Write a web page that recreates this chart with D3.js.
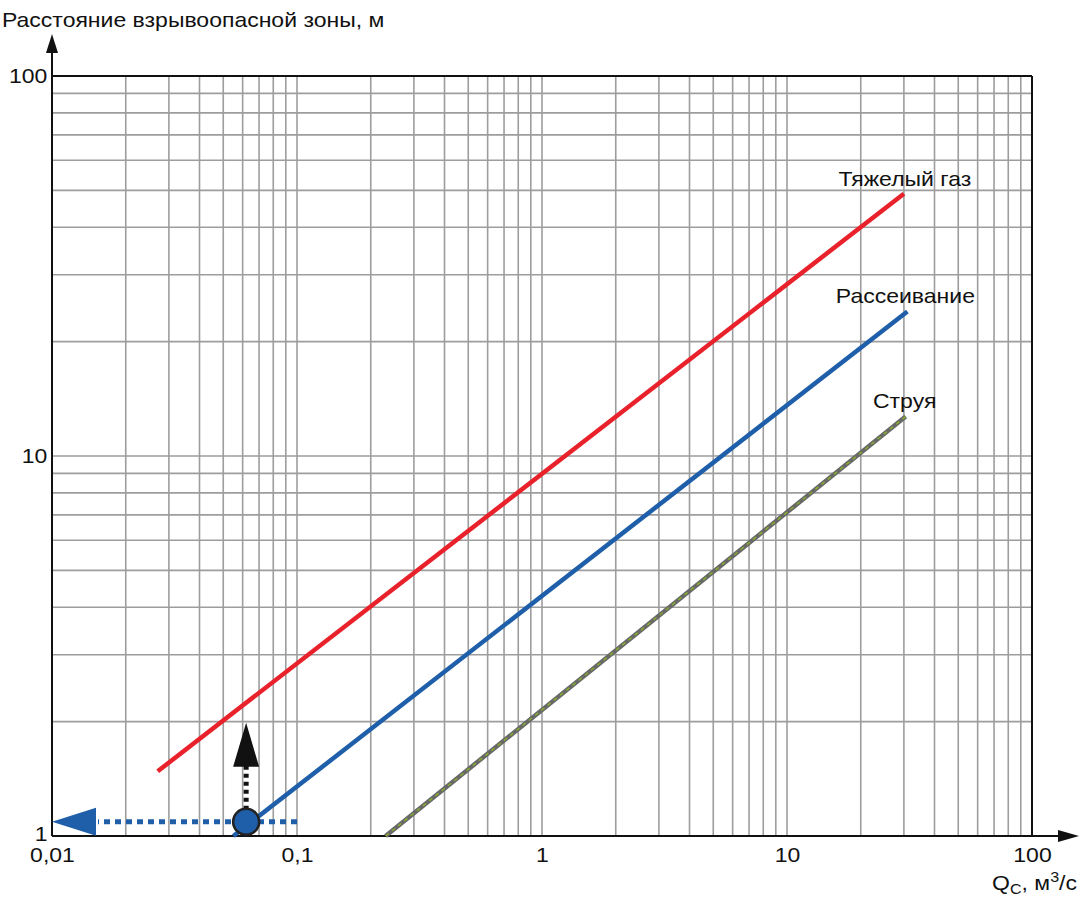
<!DOCTYPE html>
<html><head><meta charset="utf-8">
<script src="https://cdn.jsdelivr.net/npm/d3@7"></script>
<style>body{margin:0;background:#fff}svg{display:block}text{font-family:"Liberation Sans",Arial,sans-serif;fill:#111}</style>
</head><body>
<svg id="c" width="1083" height="897"></svg>
<script>
// Data
const xDomain = [0.01, 100];
const yDomain = [1, 100];
const xTickValues = [0.01, 0.1, 1, 10, 100];
const xTickLabels = ["0,01", "0,1", "1", "10", "100"];
const yTickValues = [1, 10, 100];
const yTickLabels = ["1", "10", "100"];
const seriesNames = ["Тяжелый газ", "Рассеивание", "Струя"];
const heavyGasQ = [0.027, 30];
const heavyGasR = [1.48, 49];
const dispersionQ = [0.055, 31];
const dispersionR = [1.0, 24];
const jetQ = [0.23, 30.5];
const jetR = [1.0, 12.7];
const exampleQ = 0.062;
const exampleR = 1.09;
const dashedStartQ = 0.1;

const FONT = '"Liberation Sans",Arial,sans-serif';
const SX = 1.15;
const svg = d3.select("#c");
const L = 52, R = 1032, T = 76, B = 836;
const x = d3.scaleLog().domain(xDomain).range([L, R]);
const y = d3.scaleLog().domain(yDomain).range([B, T]);

// grid
const grid = svg.append("g").attr("stroke", "#9d9d9d").attr("stroke-width", 1.6);
x.ticks().forEach(v => grid.append("line").attr("x1", x(v)).attr("x2", x(v)).attr("y1", T).attr("y2", B));
y.ticks().forEach(v => grid.append("line").attr("y1", y(v)).attr("y2", y(v)).attr("x1", L).attr("x2", R));

// frame
svg.append("line").attr("x1", L).attr("x2", R).attr("y1", T).attr("y2", T).attr("stroke", "#111").attr("stroke-width", 2);
svg.append("line").attr("x1", R).attr("x2", R).attr("y1", T).attr("y2", B).attr("stroke", "#111").attr("stroke-width", 2);
// axes lines with arrows
svg.append("line").attr("x1", L).attr("x2", L).attr("y1", B).attr("y2", 48).attr("stroke", "#111").attr("stroke-width", 2);
svg.append("path").attr("d", `M${L},34 L${L-6},53 L${L+6},53 Z`).attr("fill", "#111");
svg.append("line").attr("x1", L).attr("x2", 1064).attr("y1", B).attr("y2", B).attr("stroke", "#111").attr("stroke-width", 2);
svg.append("path").attr("d", `M1079,${B} L1058,${B-6} L1058,${B+6} Z`).attr("fill", "#111");

// tick labels
const xAxis = d3.axisBottom(x).tickValues(xTickValues).tickFormat((d, i) => xTickLabels[i]).tickSize(0).tickPadding(12);
const gx = svg.append("g").attr("transform", `translate(0,${B})`).call(xAxis);
gx.select(".domain").remove();
gx.selectAll("text").attr("font-size", 20).attr("fill", "#111").attr("font-family", FONT).attr("transform", `scale(${SX},1)`);
const yAxis = d3.axisLeft(y).tickValues(yTickValues).tickFormat((d, i) => yTickLabels[i]).tickSize(0).tickPadding(4);
const gy = svg.append("g").attr("transform", `translate(${L},0)`).call(yAxis);
gy.select(".domain").remove();
gy.selectAll("text").attr("font-size", 20).attr("fill", "#111").attr("font-family", FONT).attr("transform", `scale(${SX},1)`);
gy.selectAll("text").filter(d => d === 1).attr("dy", "0.2em");

// titles
svg.append("text").attr("transform", `translate(2,27) scale(${SX},1)`).attr("font-size", 20).text("Расстояние взрывоопасной зоны, м");
const qt = svg.append("text").attr("transform", `translate(1077,890) scale(${SX},1)`).attr("font-size", 20).attr("text-anchor", "end");
qt.append("tspan").text("Q");
qt.append("tspan").attr("font-size", 14).attr("dy", 4).text("C");
qt.append("tspan").attr("dy", -4).text(", м");
qt.append("tspan").attr("font-size", 14).attr("dy", -8).text("3");
qt.append("tspan").attr("dy", 8).text("/с");

const line = d3.line().x(d => x(d[0])).y(d => y(d[1]));
const heavy = heavyGasQ.map((q, i) => [q, heavyGasR[i]]);
const disp = dispersionQ.map((q, i) => [q, dispersionR[i]]);
const jet = jetQ.map((q, i) => [q, jetR[i]]);

svg.append("path").datum(heavy).attr("d", line).attr("stroke", "#e8212b").attr("stroke-width", 4.5).attr("fill", "none");
svg.append("path").datum(disp).attr("d", line).attr("stroke", "#1f5fa9").attr("stroke-width", 4.5).attr("fill", "none");
svg.append("path").datum(jet).attr("d", line).attr("stroke", "#686868").attr("stroke-width", 4.5).attr("fill", "none");
svg.append("path").datum(jet).attr("d", line).attr("stroke", "#86ad2e").attr("stroke-width", 1.5).attr("stroke-dasharray", "4 4").attr("fill", "none");

// series labels
function label(px, py, t) {
  svg.append("text").attr("transform", `translate(${px},${py}) scale(${SX},1)`).attr("font-size", 20).attr("text-anchor", "middle").text(t);
}
label(x(heavyGasQ[1]) + 1, y(heavyGasR[1]) - 8, seriesNames[0]);
label(x(dispersionQ[1]) - 2, y(dispersionR[1]) - 9, seriesNames[1]);
label(x(jetQ[1]) - 1, y(jetR[1]) - 9, seriesNames[2]);

// example annotation
const cx = x(exampleQ), cy = y(exampleR);
svg.append("line").attr("x1", x(dashedStartQ)).attr("x2", x(xDomain[0]) + 46).attr("y1", cy).attr("y2", cy)
  .attr("stroke", "#1f5fa9").attr("stroke-width", 5).attr("stroke-dasharray", "6 5");
svg.append("path").attr("d", `M${x(xDomain[0])},${cy} L${x(xDomain[0]) + 44},${cy-14} L${x(xDomain[0]) + 44},${cy+14} Z`).attr("fill", "#1f5fa9");
svg.append("line").attr("x1", cx).attr("x2", cx).attr("y1", cy - 12).attr("y2", cy - 58)
  .attr("stroke", "#111").attr("stroke-width", 5).attr("stroke-dasharray", "4 4");
svg.append("path").attr("d", `M${cx},${cy-99} L${cx-13},${cy-55} L${cx+13},${cy-55} Z`).attr("fill", "#111");
svg.append("circle").attr("cx", cx).attr("cy", cy).attr("r", 13).attr("fill", "#1f5fa9").attr("stroke", "#222").attr("stroke-width", 2.5);
</script>
</body></html>
